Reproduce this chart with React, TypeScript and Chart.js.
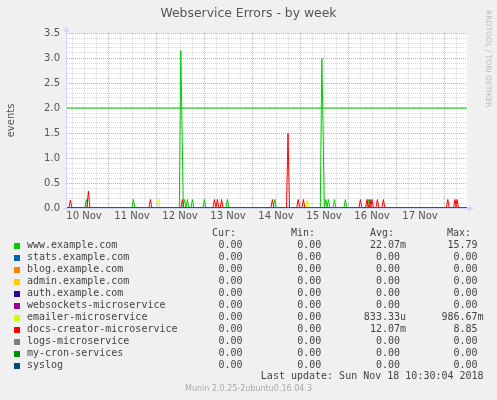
import React, { useEffect, useRef } from "react";
import { Chart, registerables } from "chart.js";

Chart.register(...registerables);

// Time axis is in hours counted from 10 Nov 00:00.
const X_MIN = 3.5;
const X_MAX = 203.5;

const dayLabels = ["10 Nov", "11 Nov", "12 Nov", "13 Nov", "14 Nov", "15 Nov", "16 Nov", "17 Nov"];

const seriesNames = [
  "www.example.com",
  "stats.example.com",
  "blog.example.com",
  "admin.example.com",
  "auth.example.com",
  "websockets-microservice",
  "emailer-microservice",
  "docs-creator-microservice",
  "logs-microservice",
  "my-cron-services",
  "syslog",
];

const seriesColors = [
  "#00CC00",
  "#0066B3",
  "#FF8000",
  "#FFCC00",
  "#330099",
  "#990099",
  "#CCFF00",
  "#FF0000",
  "#808080",
  "#008F00",
  "#00487D",
];

// Non-zero samples per series: [hour, events]
const wwwSamples: [number, number][] = [
  [13.2, 0.17], [36.7, 0.17], [60.4, 3.15], [60.9, 1.9], [62.2, 0.17], [63.7, 0.17],
  [66.2, 0.17], [72.2, 0.17], [83.7, 0.17], [107.4, 0.17], [130.9, 3.0], [131.4, 1.9],
  [132.9, 0.17], [134.2, 0.17], [137.2, 0.17], [142.7, 0.17], [154.2, 0.17],
];
const emailerSamples: [number, number][] = [
  [49.3, 0.17], [123.7, 0.17],
];
const docsSamples: [number, number][] = [
  [5.2, 0.16], [14.2, 0.34], [45.2, 0.17], [61.2, 0.17], [77.2, 0.17], [78.7, 0.17],
  [80.8, 0.17], [106.2, 0.17], [114.0, 1.49], [119.1, 0.17], [121.7, 0.17], [150.2, 0.17],
  [153.5, 0.17], [155.0, 0.17], [156.0, 0.17], [158.7, 0.17], [161.7, 0.17], [193.9, 0.17],
  [197.5, 0.17], [198.5, 0.17],
];
const emptySamples: [number, number][] = [];

const seriesSamples = [
  wwwSamples, emptySamples, emptySamples, emptySamples, emptySamples, emptySamples,
  emailerSamples, docsSamples, emptySamples, emptySamples, emptySamples,
];

const warningLevel = 2.0;

const curValues = ["0.00", "0.00", "0.00", "0.00", "0.00", "0.00", "0.00", "0.00", "0.00", "0.00", "0.00"];
const minValues = ["0.00", "0.00", "0.00", "0.00", "0.00", "0.00", "0.00", "0.00", "0.00", "0.00", "0.00"];
const avgValues = ["22.07m", "0.00", "0.00", "0.00", "0.00", "0.00", "833.33u", "12.07m", "0.00", "0.00", "0.00"];
const maxValues = ["15.79", "0.00", "0.00", "0.00", "0.00", "0.00", "986.67m", "8.85", "0.00", "0.00", "0.00"];

const yTickMax = 3.5;

// Turn the sparse samples into a polyline resting on zero between events.
function toPoints(samples: [number, number][]) {
  const pts: { x: number; y: number }[] = [{ x: X_MIN, y: 0 }];
  samples.forEach(([t, v], i) => {
    const prev = samples[i - 1];
    const next = samples[i + 1];
    if (!prev || t - prev[0] > 0.6) pts.push({ x: t - 0.75, y: 0 });
    pts.push({ x: t, y: v });
    if (!next || next[0] - t > 0.6) pts.push({ x: t + 0.75, y: 0 });
  });
  pts.push({ x: X_MAX, y: 0 });
  return pts;
}

const AXIS_COLOR = "#CFD6F8";
const MAJOR_GRID = "#F49A9A";
const MINOR_GRID = "#D8D8D8";

const frame = {
  id: "frame",
  beforeDraw(chart: any) {
    const { ctx, chartArea: a } = chart;
    ctx.save();
    ctx.fillStyle = "#ffffff";
    ctx.fillRect(a.left, a.top, a.right - a.left, a.bottom - a.top);
    ctx.restore();
  },
  afterDatasetsDraw(chart: any) {
    const { ctx, chartArea: a } = chart;
    ctx.save();
    ctx.strokeStyle = AXIS_COLOR;
    ctx.fillStyle = AXIS_COLOR;
    ctx.lineWidth = 1;
    const xl = Math.round(a.left) - 0.5;
    const yb = Math.round(a.bottom) + 0.5;
    ctx.beginPath();
    ctx.moveTo(xl, yb + 3);
    ctx.lineTo(xl, a.top - 4);
    ctx.moveTo(xl - 3, yb);
    ctx.lineTo(a.right + 3, yb);
    ctx.stroke();
    // arrow heads
    ctx.beginPath();
    ctx.moveTo(xl, a.top - 7);
    ctx.lineTo(xl - 3, a.top - 1);
    ctx.lineTo(xl + 3, a.top - 1);
    ctx.closePath();
    ctx.fill();
    ctx.beginPath();
    ctx.moveTo(a.right + 7, yb);
    ctx.lineTo(a.right + 1, yb - 3);
    ctx.lineTo(a.right + 1, yb + 3);
    ctx.closePath();
    ctx.fill();
    ctx.restore();
  },
};

const SANS = '"DejaVu Sans", sans-serif';
const MONO = '"DejaVu Sans Mono", monospace';

function ChartCanvas() {
  const ref = useRef<HTMLCanvasElement | null>(null);

  useEffect(() => {
    if (!ref.current) return;
    const n = seriesNames.length;
    const datasets: any[] = seriesNames.map((name, i) => ({
      label: name,
      data: toPoints(seriesSamples[i]),
      borderColor: seriesColors[i],
      backgroundColor: seriesColors[i],
      borderWidth: 1,
      pointRadius: 0,
      tension: 0,
      fill: false,
      order: n - i,
    }));
    datasets.push({
      label: "warning",
      data: [
        { x: X_MIN, y: warningLevel },
        { x: X_MAX, y: warningLevel },
      ],
      borderColor: seriesColors[0],
      borderWidth: 1.2,
      pointRadius: 0,
      fill: false,
      order: -1,
    });

    const xGrid: number[] = [];
    for (let h = 6; h < X_MAX; h += 6) xGrid.push(h);
    const yGrid: number[] = [];
    for (let i = 0; i <= Math.round(yTickMax * 10); i++) yGrid.push(i / 10);

    const chart = new Chart(ref.current, {
      type: "line",
      data: { datasets },
      plugins: [frame],
      options: {
        responsive: false,
        animation: false,
        devicePixelRatio: 1,
        events: [],
        layout: { padding: { top: 33, left: 0, right: 30, bottom: 172 } },
        plugins: {
          legend: { display: false },
          tooltip: { enabled: false },
          title: { display: false },
        },
        scales: {
          x: {
            type: "linear",
            min: X_MIN,
            max: X_MAX,
            afterFit: (s: any) => {
              s.height = 20;
            },
            afterBuildTicks: (s: any) => {
              s.ticks = xGrid.map((v) => ({ value: v }));
            },
            ticks: {
              autoSkip: false,
              maxRotation: 0,
              minRotation: 0,
              padding: 2,
              color: "#555555",
              font: { family: SANS, size: 10 },
              callback: (v: any) => {
                const h = Number(v);
                return h % 24 === 12 ? dayLabels[(h - 12) / 24] : "";
              },
            },
            grid: {
              drawTicks: false,
              lineWidth: 1,
              color: (c: any) =>
                c.tick && c.tick.value % 24 === 0 ? MAJOR_GRID : MINOR_GRID,
            },
            border: { display: false, dash: [1, 1] },
          },
          y: {
            type: "linear",
            min: 0,
            max: yTickMax,
            afterFit: (s: any) => {
              s.width = 67;
            },
            afterBuildTicks: (s: any) => {
              s.ticks = yGrid.map((v) => ({ value: v }));
            },
            ticks: {
              autoSkip: false,
              padding: 7,
              color: "#555555",
              font: { family: SANS, size: 10 },
              callback: (v: any) => {
                const k = Math.round(Number(v) * 10);
                return k % 5 === 0 ? (k / 10).toFixed(1) : "";
              },
            },
            grid: {
              drawTicks: false,
              lineWidth: 1,
              color: (c: any) =>
                c.tick && Math.round(c.tick.value * 10) % 5 === 0 ? MAJOR_GRID : MINOR_GRID,
            },
            border: { display: false, dash: [1, 1] },
            title: {
              display: true,
              text: "events",
              color: "#555555",
              font: { family: SANS, size: 10 },
              padding: { top: 5, bottom: 0 },
            },
          },
        },
      } as any,
    });
    return () => chart.destroy();
  }, []);

  return (
    <canvas
      ref={ref}
      width={497}
      height={400}
      style={{ position: "absolute", left: 0, top: 0, width: 497, height: 400, display: "block" }}
    />
  );
}

// Fixed-width value field: number right-aligned, followed by its unit (or a blank).
function field(s: string) {
  return /[a-z]$/i.test(s) ? s : s + " ";
}

const colRight = [248.5, 327.3, 406, 483.6];
const colHeadLeft = [212, 291, 369.9, 447];
const colHeads = ["Cur:", "Min:", "Avg:", "Max:"];

export default function App() {
  const rowTop = (i: number) => 239 + 12 * i;
  const textBase: React.CSSProperties = {
    position: "absolute",
    fontFamily: MONO,
    fontSize: 10,
    lineHeight: "12px",
    height: 12,
    color: "#444444",
    whiteSpace: "pre",
  };
  return (
    <div
      style={{
        position: "absolute",
        left: 0,
        top: 0,
        width: 497,
        height: 400,
        background: "#F0F0F0",
        overflow: "hidden",
      }}
    >
      <ChartCanvas />
      <div
        style={{
          position: "absolute",
          left: 0,
          top: 6,
          width: 497,
          textAlign: "center",
          fontFamily: SANS,
          fontSize: 12.4,
          lineHeight: "14px",
          color: "#555555",
          whiteSpace: "pre",
        }}
      >
        Webservice Errors - by week
      </div>
      <div
        style={{
          position: "absolute",
          left: 484,
          top: 10,
          width: 9,
          writingMode: "vertical-rl",
          fontFamily: SANS,
          fontSize: 7.6,
          lineHeight: "9px",
          color: "#BBBBBB",
          whiteSpace: "pre",
        }}
      >
        RRDTOOL / TOBI OETIKER
      </div>

      {colHeads.map((h, j) => (
        <div key={h} style={{ ...textBase, left: colHeadLeft[j], top: 227 }}>
          {h}
        </div>
      ))}

      {seriesNames.map((name, i) => (
        <React.Fragment key={name}>
          <div
            style={{
              position: "absolute",
              left: 14,
              top: rowTop(i) + 3.5,
              width: 6,
              height: 6,
              background: seriesColors[i],
            }}
          />
          <div style={{ ...textBase, left: 27, top: rowTop(i) }}>{name}</div>
          {[curValues, minValues, avgValues, maxValues].map((col, j) => (
            <div
              key={j}
              style={{ ...textBase, right: 497 - colRight[j], top: rowTop(i), textAlign: "right" }}
            >
              {field(col[i])}
            </div>
          ))}
        </React.Fragment>
      ))}

      <div style={{ ...textBase, right: 497 - 483.6, top: 370, textAlign: "right" }}>
        {"Last update: Sun Nov 18 10:30:04 2018"}
      </div>
      <div
        style={{
          position: "absolute",
          left: 0,
          top: 384.2,
          width: 497,
          textAlign: "center",
          fontFamily: SANS,
          fontSize: 8,
          lineHeight: "10px",
          color: "#AAAAAA",
          whiteSpace: "pre",
        }}
      >
        Munin 2.0.25-2ubuntu0.16.04.3
      </div>
    </div>
  );
}
